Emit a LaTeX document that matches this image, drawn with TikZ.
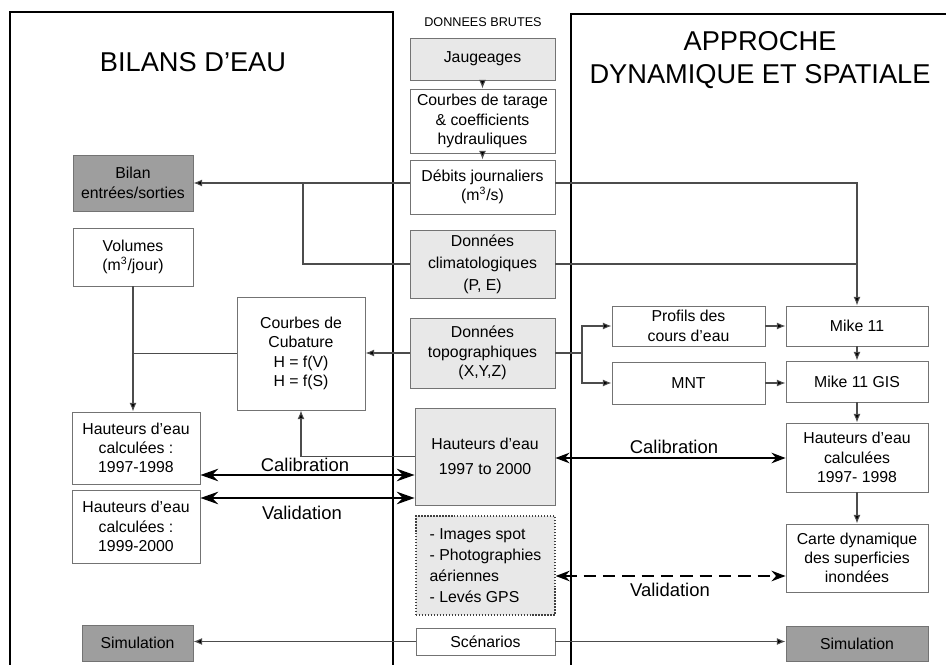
\documentclass[tikz,border=0pt]{standalone}
\usepackage{fontspec}
\setmainfont{Liberation Sans}
\usetikzlibrary{arrows.meta}

\begin{document}
\begin{tikzpicture}[x=0.02cm,y=-0.02cm,
    font=\fontsize{9}{11}\selectfont,
    wh/.style 2 args={minimum width=#1*0.02cm,minimum height=#2*0.02cm},
    boite/.style={draw=black!55,line width=0.5pt,inner sep=1pt,align=center,fill=white},
    donnee/.style={boite,fill=black!9},
    sortie/.style={boite,fill=black!38},
    lien/.style={draw=black!70,line width=0.6pt},
    fl/.style={lien,-{Latex[length=5pt,width=4pt,fill=black]}},
    grosse/.style={line width=1.6pt,{Stealth[length=10pt,width=7pt]}-{Stealth[length=10pt,width=7pt]}},
    moyenne/.style={line width=1.1pt,{Stealth[length=8pt,width=6pt]}-{Stealth[length=8pt,width=6pt]}},
    etiquette/.style={font=\fontsize{10.5}{12}\selectfont},
    panneau/.style={line width=1.2pt}]
    \useasboundingbox (0,0) rectangle (946,665);

    % les deux panneaux
    \draw[panneau] (10,665) |- (393,12) -- (393,665);
    \draw[panneau] (571,665) |- (950,14);
    \node[font=\fontsize{15.5}{18}\selectfont] (titreG) at (193,62) {BILANS D'EAU};
    \node[font=\fontsize{15.5}{19}\selectfont,align=center] (titreD) at (760,60) {APPROCHE\\DYNAMIQUE ET SPATIALE};
    \node[font=\fontsize{7.2}{8}\selectfont] (brutes) at (483,22) {DONNEES BRUTES};

    % donnees brutes
    \node[donnee,wh={145}{42}] (jaug) at (482.5,59) {Jaugeages};
    \node[boite,wh={145}{64}] (tarage) at (482.5,121) {Courbes de tarage\\\& coefficients\\hydrauliques};
    \node[boite,wh={145}{54}] (debits) at (482.5,187) {Débits journaliers\\(m\textsuperscript{3}/s)};
    \node[donnee,wh={145}{68},font=\fontsize{9}{12.5}\selectfont] (clim) at (482.5,264) {Données\\climatologiques\\(P, E)};
    \node[donnee,wh={145}{70}] (topo) at (482.5,353) {Données\\topographiques\\(X,Y,Z)};
    \node[donnee,wh={140}{97}] (hmes) at (485,456.5) {Hauteurs d'eau\\[3pt]1997 to 2000};
    \node[donnee,draw=black!75,line width=0.7pt,densely dotted,wh={139}{99},align=left,font=\fontsize{9}{12}\selectfont] (obs) at (485.5,565.5) {- Images spot\\- Photographies\\aériennes\\- Levés GPS};
    \node[boite,wh={139}{27}] (scen) at (485.5,641.5) {Scénarios};

    % bilans d'eau
    \node[sortie,wh={120}{56}] (bilan) at (133,183) {Bilan\\entrées/sorties};
    \node[boite,wh={120}{58}] (vol) at (133,257) {Volumes\\(m\textsuperscript{3}/jour)};
    \node[boite,wh={128}{113}] (cub) at (301,353.5) {Courbes de\\Cubature\\H = f(V)\\H = f(S)};
    \node[boite,wh={128}{72}] (h9798) at (136,448) {Hauteurs d'eau\\calculées :\\1997-1998};
    \node[boite,wh={128}{73}] (h9900) at (136,526.5) {Hauteurs d'eau\\calculées :\\1999-2000};
    \node[sortie,wh={111}{36}] (simL) at (137.5,643) {Simulation};

    % approche dynamique
    \node[boite,wh={153}{40}] (prof) at (688.5,326) {Profils des\\cours d'eau};
    \node[boite,wh={153}{42}] (mnt) at (688.5,383) {MNT};
    \node[boite,wh={142}{40}] (mike) at (857,326) {Mike 11};
    \node[boite,wh={142}{41}] (gis) at (857,381.5) {Mike 11 GIS};
    \node[boite,wh={142}{69}] (hcal) at (857,457.5) {Hauteurs d'eau\\calculées\\1997- 1998};
    \node[boite,wh={142}{68}] (carte) at (857,558) {Carte dynamique\\des superficies\\inondées};
    \node[sortie,wh={142}{35}] (simR) at (857,643.5) {Simulation};

    \coordinate (jc) at (303,183);
    \coordinate (br) at (582,353);
    \coordinate (calG) at (300,475);
    \coordinate (valG) at (300,498);
    \coordinate (calD) at (670,458);
    \coordinate (valD) at (670,576);

    \draw[fl] (jaug) -- (tarage);
    \draw[fl] (tarage) -- (debits);
    \draw[fl] (debits.west |- bilan.east) -- (bilan.east);
    \draw[lien] (clim.west) -| (jc);
    \draw[fl] (debits.east |- bilan.east) -| (mike.north);
    \draw[lien] (clim.east) -- (clim.east -| mike.north);
    \draw[fl] (topo.west) -- (topo.west -| cub.east);
    \draw[lien] (topo.east) -- (br);
    \draw[fl] (br) |- (prof.west);
    \draw[fl] (br) |- (mnt.west);
    \draw[fl] (prof) -- (mike);
    \draw[fl] (mnt.east) -- (mnt.east -| gis.west);
    \draw[fl] (mike) -- (gis);
    \draw[fl] (gis) -- (hcal);
    \draw[fl] (hcal) -- (carte);
    \draw[fl] (vol.south) -- (vol.south |- h9798.north);
    \draw[lien] (cub.west) -- (cub.west -| vol.south);
    \draw[fl] (hmes.west) -| (cub.south);
    \draw[fl] (scen.west) -- (scen.west -| simL.east);
    \draw[fl] (scen.east) -- (scen.east -| simR.west);

    % calibration / validation
    \draw[grosse] (h9798.east |- calG) -- (hmes.west |- calG);
    \node[etiquette] (lcalG) at (305,465) {Calibration};
    \draw[grosse] (h9900.east |- valG) -- (hmes.west |- valG);
    \node[etiquette] (lvalG) at (302,513) {Validation};
    \draw[moyenne] (hmes.east |- calD) -- (hcal.west |- calD);
    \node[etiquette] (lcalD) at (674,447) {Calibration};
    \draw[moyenne,dash pattern=on 7pt off 4pt] (obs.east |- valD) -- (carte.west |- valD);
    \node[etiquette] (lvalD) at (670,590) {Validation};
\end{tikzpicture}
\end{document}
